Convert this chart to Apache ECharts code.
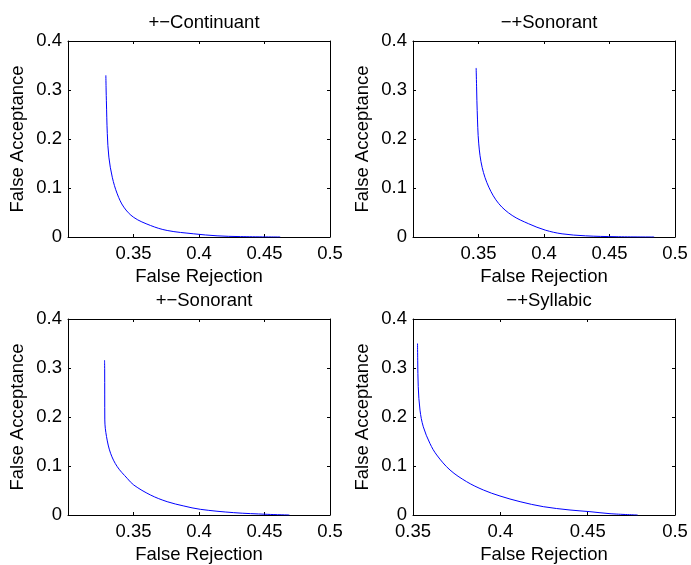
<!DOCTYPE html>
<html>
<head>
<meta charset="utf-8">
<script src="https://cdn.jsdelivr.net/npm/echarts@6/dist/echarts.min.js"></script>
<style>
html,body{margin:0;padding:0;background:#fff;}
#chart{width:691px;height:565px;}
</style>
</head>
<body>
<div id="chart"></div>
<script>
// ---- data ----
const titles = ['+\u2212Continuant', '\u2212+Sonorant', '+\u2212Sonorant', '\u2212+Syllabic'];
const xLabel = 'False Rejection';
const yLabel = 'False Acceptance';
const xMins = [0.3, 0.3, 0.3, 0.35];
const xMax = 0.5;
const yMin = 0;
const yMax = 0.4;

const contX = [0.3289, 0.3291, 0.3293, 0.3300, 0.3312, 0.3338, 0.3376, 0.3426, 0.3502, 0.363, 0.3757, 0.396, 0.4138, 0.4316, 0.4620];
const contY = [0.330, 0.300, 0.278, 0.211, 0.163, 0.122, 0.088, 0.061, 0.040, 0.0235, 0.0133, 0.0065, 0.0024, 0.0008, 0];

const sonMPX = [0.3482, 0.3486, 0.3490, 0.3502, 0.3528, 0.3579, 0.3655, 0.3757, 0.3883, 0.401, 0.4138, 0.4316, 0.455, 0.4841];
const sonMPY = [0.345, 0.300, 0.258, 0.190, 0.142, 0.1016, 0.068, 0.044, 0.027, 0.014, 0.0065, 0.0024, 0.0006, 0];

const sonPMX = [0.3279, 0.3280, 0.3281, 0.3294, 0.3325, 0.3376, 0.3452, 0.3502, 0.363, 0.3757, 0.3884, 0.401, 0.4265, 0.452, 0.469];
const sonPMY = [0.316, 0.296, 0.194, 0.160, 0.126, 0.0986, 0.0748, 0.0612, 0.0408, 0.0272, 0.0184, 0.0116, 0.0048, 0.0014, 0];

const sylX = [0.3526, 0.3527, 0.3530, 0.3540, 0.3559, 0.3597, 0.3636, 0.3712, 0.3807, 0.3903, 0.3998, 0.4113, 0.4246, 0.4399, 0.4513, 0.4628, 0.4786];
const sylY = [0.350, 0.316, 0.262, 0.214, 0.180, 0.146, 0.1224, 0.0918, 0.068, 0.051, 0.0388, 0.0272, 0.017, 0.0102, 0.0068, 0.0027, 0];

const curvesX = [contX, sonMPX, sonPMX, sylX];
const curvesY = [contY, sonMPY, sonPMY, sylY];

// ---- layout ----
const FONT = 'Liberation Sans, Arial, Helvetica, sans-serif';
const FS = 18.5;
const boxes = [
  {left: 68, top: 41}, {left: 413, top: 41},
  {left: 68, top: 319}, {left: 413, top: 319}
];
const W = 262, H = 196;

const grid = [], xAxis = [], yAxis = [], series = [], title = [];
const lineStyle = {color: '#000', width: 1};

boxes.forEach((b, i) => {
  grid.push({left: b.left, top: b.top, width: W, height: H, containLabel: false});
  title.push({
    text: titles[i], left: b.left + W / 2, top: b.top - 33, textAlign: 'center',
    textStyle: {fontFamily: FONT, fontSize: FS, fontWeight: 'normal', color: '#000'}
  });
  const xmin = xMins[i];
  xAxis.push({
    gridIndex: i, type: 'value', position: 'bottom', min: xmin, max: xMax, interval: 0.05,
    axisLine: {show: true, onZero: false, lineStyle},
    axisTick: {show: true, inside: true, length: 3, lineStyle},
    splitLine: {show: false},
    axisLabel: {
      margin: 7, color: '#000', fontFamily: FONT, fontSize: FS,
      formatter: v => (Math.abs(v - 0.3) < 1e-9 ? '' : String(+v.toFixed(2)))
    },
    name: xLabel, nameLocation: 'middle', nameGap: 30,
    nameTextStyle: {color: '#000', fontFamily: FONT, fontSize: FS}
  });
  xAxis.push({
    gridIndex: i, type: 'value', position: 'top', min: xmin, max: xMax, interval: 0.05,
    axisLine: {show: true, onZero: false, lineStyle},
    axisTick: {show: true, inside: true, length: 3, lineStyle},
    splitLine: {show: false}, axisLabel: {show: false}
  });
  yAxis.push({
    gridIndex: i, type: 'value', position: 'left', min: yMin, max: yMax, interval: 0.1,
    axisLine: {show: true, onZero: false, lineStyle},
    axisTick: {show: true, inside: true, length: 3, lineStyle},
    splitLine: {show: false},
    axisLabel: {margin: 6, color: '#000', fontFamily: FONT, fontSize: FS,
      formatter: v => String(+v.toFixed(2))},
    name: yLabel, nameLocation: 'middle', nameGap: 41, nameRotate: 90,
    nameTextStyle: {color: '#000', fontFamily: FONT, fontSize: FS}
  });
  yAxis.push({
    gridIndex: i, type: 'value', position: 'right', min: yMin, max: yMax, interval: 0.1,
    axisLine: {show: true, onZero: false, lineStyle},
    axisTick: {show: true, inside: true, length: 3, lineStyle},
    splitLine: {show: false}, axisLabel: {show: false}
  });
  series.push({
    type: 'line', xAxisIndex: 2 * i, yAxisIndex: 2 * i,
    data: curvesX[i].map((x, k) => [x, curvesY[i][k]]),
    showSymbol: false, symbol: 'none', smooth: 0.35,
    lineStyle: {color: '#0000ff', width: 1}, silent: true, animation: false
  });
});

const chart = echarts.init(document.getElementById('chart'), null, {renderer: 'canvas'});
chart.setOption({
  backgroundColor: '#fff', animation: false,
  title, grid, xAxis, yAxis, series
});
</script>
</body>
</html>
